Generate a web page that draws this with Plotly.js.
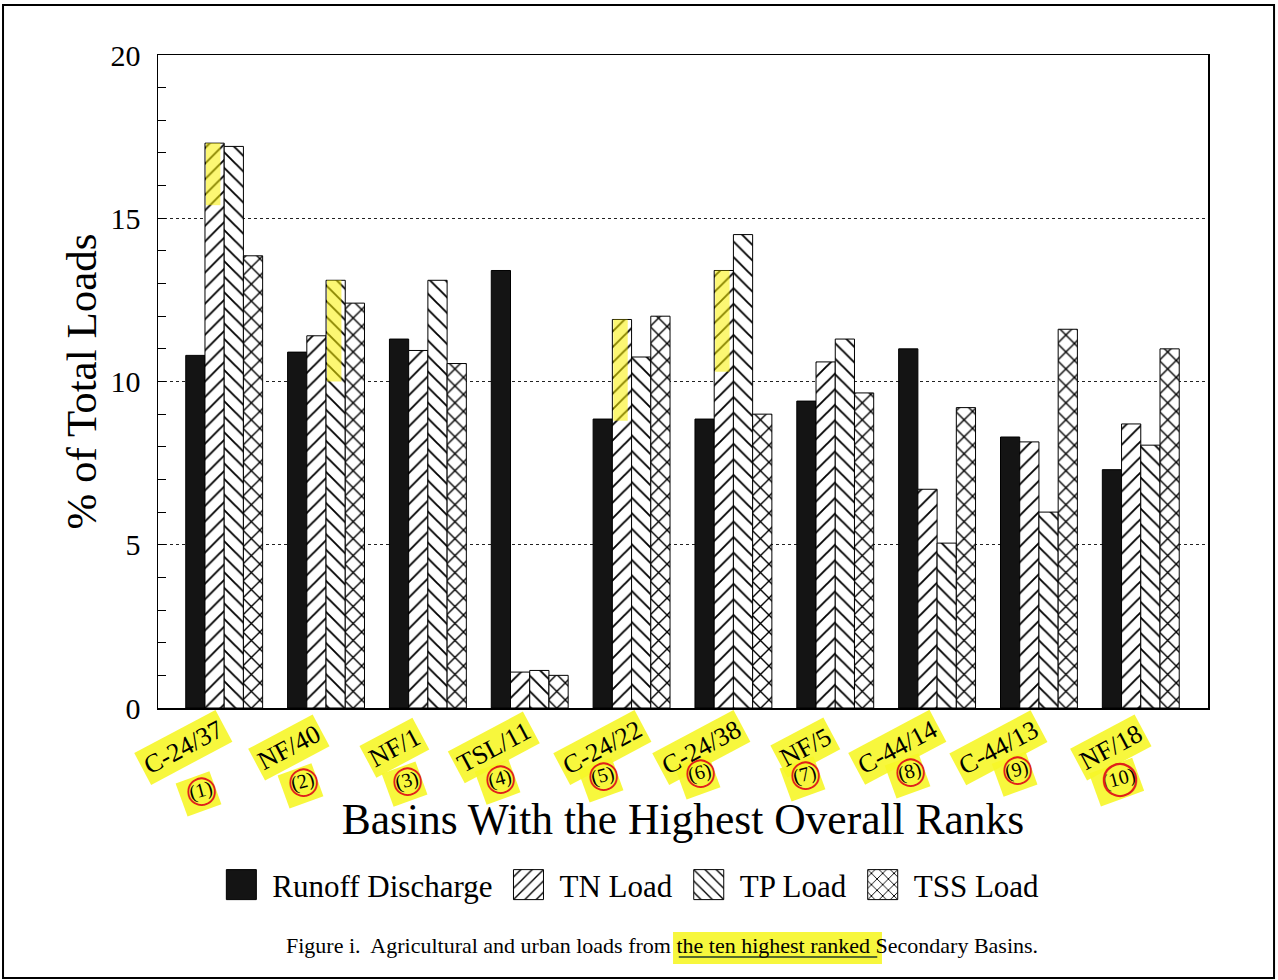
<!DOCTYPE html>
<html>
<head>
<meta charset="utf-8">
<script src="https://cdn.plot.ly/plotly-3.0.1.min.js"></script>
<style>html,body{margin:0;padding:0;background:#fff;}</style>
</head>
<body>
<div id="chart" style="width:1278px;height:980px;"></div>
<script>
const categories = ['C-24/37','NF/40','NF/1','TSL/11','C-24/22','C-24/38','NF/5','C-44/14','C-44/13','NF/18'];
const ranks = ['(1)','(2)','(3)','(4)','(5)','(6)','(7)','(8)','(9)','(10)'];
const seriesNames = ['Runoff Discharge','TN Load','TP Load','TSS Load'];
const runoff = [10.8, 10.9, 11.3, 13.4, 8.85, 8.85, 9.4, 11.0, 8.3, 7.3];
const tnLoad = [17.3, 11.4, 10.95, 1.1, 11.9, 13.4, 10.6, 6.7, 8.15, 8.7];
const tpLoad = [17.2, 13.1, 13.1, 1.15, 10.75, 14.5, 11.3, 5.05, 6.0, 8.05];
const tssLoad = [13.85, 12.4, 10.55, 1.0, 12.0, 9.0, 9.65, 9.2, 11.6, 11.0];

const serif = 'Liberation Serif, Times New Roman, serif';
const yellow = 'rgba(246,246,40,0.9)';

function barTrace(name, vals, shape, fill, size, solidity) {
  const t = {
    type: 'bar', name: name, x: categories, y: vals,
    marker: { color: fill, line: { color: '#000', width: 1 } },
    hoverinfo: 'x+y+name'
  };
  if (shape) {
    t.marker.pattern = { shape: shape, fgcolor: '#000', bgcolor: '#fff', size: size, solidity: solidity, fillmode: 'replace' };
    t.marker.color = '#fff';
  }
  return t;
}

const data = [
  barTrace(seriesNames[0], runoff, null, '#141414'),
  barTrace(seriesNames[1], tnLoad, '/', '#fff', 11, 0.17),
  barTrace(seriesNames[2], tpLoad, '\\', '#fff', 11, 0.17),
  barTrace(seriesNames[3], tssLoad, 'x', '#fff', 12, 0.22)
];

const annotations = [];
const shapes = [];
const labelShift = [-41, -37, -33, -36, -29, -32, -30, -40, -40, -30];
const rankShift = [-24, -24, -21, -30, -29, -34, -31, -28, -22, -22];
const rankY = [-0.1256, -0.1133, -0.1103, -0.1072, -0.1041, -0.0995, -0.1026, -0.0980, -0.0949, -0.1072];
// rank highlight first (drawn beneath the basin labels)
categories.forEach((c, i) => {
  annotations.push({
    x: i, xref: 'x', y: rankY[i] - 0.006, yref: 'paper', xshift: rankShift[i] - 2,
    text: ranks[i], showarrow: false, textangle: -20,
    font: { family: serif, size: 21, color: 'rgba(0,0,0,0)' },
    bgcolor: yellow, borderpad: 5, xanchor: 'center', yanchor: 'middle'
  });
});
categories.forEach((c, i) => {
  annotations.push({
    x: i, xref: 'x', y: -0.061, yref: 'paper', xshift: labelShift[i],
    text: c, showarrow: false, textangle: -28,
    font: { family: serif, size: 26, color: '#000' },
    bgcolor: yellow, borderpad: 3, xanchor: 'center', yanchor: 'middle'
  });
});
categories.forEach((c, i) => {
  annotations.push({
    x: i, xref: 'x', y: rankY[i], yref: 'paper', xshift: rankShift[i],
    text: ranks[i], showarrow: false, textangle: -15,
    font: { family: serif, size: 20, color: '#000' },
    xanchor: 'center', yanchor: 'middle'
  });
  annotations.push({
    x: i, xref: 'x', y: rankY[i], yref: 'paper', xshift: rankShift[i] + 1, yshift: 1,
    text: '\u25EF', showarrow: false,
    font: { family: 'DejaVu Sans', size: ranks[i].length > 3 ? 34 : 28, color: '#e0201a' },
    xanchor: 'center', yanchor: 'middle'
  });
});

// caption
annotations.push({
  x: 0.48, xref: 'paper', y: -0.363, yref: 'paper', showarrow: false,
  text: 'Figure i.  Agricultural and urban loads from the ten highest ranked Secondary Basins.',
  font: { family: serif, size: 22, color: '#000' }, xanchor: 'center', yanchor: 'middle'
});
// caption highlight
shapes.push({
  type: 'rect', xref: 'paper', yref: 'paper', layer: 'below',
  x0: 0.4905, x1: 0.6895, y0: -0.392, y1: -0.343,
  fillcolor: 'rgba(246,246,40,0.9)', line: { width: 0 }
});
shapes.push({
  type: 'line', xref: 'paper', yref: 'paper',
  x0: 0.496, x1: 0.685, y0: -0.3815, y1: -0.3815,
  line: { color: '#556b2f', width: 2 }
});
// page border
shapes.push({
  type: 'rect', xref: 'paper', yref: 'paper', layer: 'above',
  x0: -0.1476, x1: 1.0629, y0: -0.4135, y1: 1.0766,
  line: { color: '#000', width: 2 }, fillcolor: 'rgba(0,0,0,0)'
});
// marker highlights on a few bars (TN bars of groups 1,5,6 and TP bar of group 2)
const hl = [[0, tnLoad, -1], [4, tnLoad, -1], [5, tnLoad, -1], [1, tpLoad, 1]];
hl.forEach(h => {
  const i = h[0], vals = h[1], side = h[2];
  const bw = 0.755 / 4;
  const cx = i + (side < 0 ? -bw / 2 : bw / 2);
  shapes.push({
    type: 'rect', xref: 'x', yref: 'y', layer: 'above',
    x0: cx - bw * 0.45, x1: cx + bw * 0.3, y0: vals[i] - (i === 0 ? 1.9 : 3.1), y1: vals[i],
    fillcolor: 'rgba(250,240,0,0.55)', line: { width: 0 }
  });
});

const layout = {
  width: 1278, height: 980,
  margin: { l: 158, r: 70, t: 55, b: 272, pad: 0 },
  paper_bgcolor: '#fff', plot_bgcolor: '#fff',
  font: { family: serif, color: '#000' },
  barmode: 'group', bargap: 0.245, bargroupgap: 0,
  showlegend: true,
  legend: {
    orientation: 'h', x: 0.447, xanchor: 'center', y: -0.271, yanchor: 'middle',
    font: { family: serif, size: 31, color: '#000' }, itemwidth: 52,
    traceorder: 'normal', bgcolor: 'rgba(0,0,0,0)'
  },
  xaxis: {
    type: 'category', range: [-0.65, 9.66],
    showline: true, mirror: true, linecolor: '#000', linewidth: 1.5,
    ticks: '', showticklabels: false, showgrid: false, zeroline: false,
    title: { text: 'Basins With the Highest Overall Ranks', font: { family: serif, size: 43.5, color: '#000' }, standoff: 95 }
  },
  yaxis: {
    range: [0, 20], dtick: 5, tick0: 0,
    showline: true, mirror: true, linecolor: '#000', linewidth: 1.5,
    ticks: 'inside', ticklen: 8, tickcolor: '#000', tickwidth: 1,
    minor: { dtick: 1, ticks: 'inside', ticklen: 8, tickcolor: '#000', showgrid: false },
    showgrid: true, gridcolor: '#222', griddash: 'dot', gridwidth: 1, zeroline: false,
    tickfont: { family: serif, size: 30, color: '#000' }, ticklabelstandoff: 10,
    title: { text: '% of Total Loads', font: { family: serif, size: 43, color: '#000' }, standoff: 0 }
  },
  annotations: annotations,
  shapes: shapes
};

Plotly.newPlot('chart', data, layout, { displayModeBar: false, staticPlot: true }).then(gd => {
  gd.querySelectorAll('.legend .legendpoints path').forEach(p => {
    p.setAttribute('d', 'M15,15H-15V-15H15Z');
  });
});
</script>
</body>
</html>
